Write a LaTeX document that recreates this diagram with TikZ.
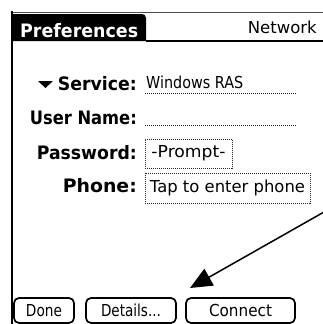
\documentclass[tikz,border=0pt]{standalone}
\usepackage{fontspec}
\setmainfont{DejaVu Sans}
\usetikzlibrary{arrows.meta}
\newcommand{\fw}[2]{\resizebox{#1pt}{\height}{#2}}
\begin{document}
\begin{tikzpicture}[x=1pt,y=-1pt,
  lbl/.style={inner sep=0pt,font=\fontsize{18.5}{18.5}\bfseries\selectfont},
  txt/.style={inner sep=0pt,font=\fontsize{16.5}{16.5}\selectfont},
  dotln/.style={black!85,line width=1pt,dash pattern=on 1pt off 1pt},
  dotbox/.style={draw=black!85,line width=1pt,dash pattern=on 1pt off 1pt,inner sep=0pt,font=\fontsize{16.5}{16.5}\selectfont},
  btn/.style={draw,line width=1.7pt,rounded corners=5pt,minimum height=25pt,inner sep=0pt,font=\fontsize{16.5}{16.5}\selectfont},
  arr/.style={-{Triangle[length=22pt,width=19pt]},line width=1.5pt}]
\useasboundingbox (0,0) rectangle (323,324);
% frame
\draw[line width=1pt,black!70] (12,12) -- (323,12);
\draw[line width=2pt] (12,11) -- (12,324);
\fill (13,41) -- (13,14) [rounded corners=4pt] -- (146,14) [sharp corners] -- (146,41) -- cycle;
\draw[line width=2pt] (146,41) -- (323,41);
% title
\node[lbl,text=white,anchor=base west] (pref) at (20,37) {\fw{118}{Preferences}};
\node[txt,anchor=base east] (net) at (317,33) {\fw{69}{Network}};
% labels
\fill (38,81) -- (53,81) -- (45.5,88) -- cycle;
\node[lbl,anchor=base east] (svc) at (137,90) {\fw{79}{Service:}};
\node[lbl,anchor=base east] (usr) at (137,124) {\fw{107}{User Name:}};
\node[lbl,anchor=base east] (pwd) at (137,159) {\fw{100}{Password:}};
\node[lbl,anchor=base east] (phn) at (137,192) {\fw{74}{Phone:}};
% values
\node[txt,anchor=base west] (svcv) at (146,88) {\fw{97}{Windows RAS}};
\draw[dotln] (145,93) -- (297,93);
\draw[dotln] (145,125) -- (297,125);
\node[dotbox,minimum width=87pt,minimum height=29pt] (pwdv) at (188.5,153.5) {\fw{74}{-Prompt-}};
\node[dotbox,minimum width=165pt,minimum height=30pt] (phnv) at (227.5,188) {\fw{155}{Tap to enter phone}};
% buttons
\node[btn,minimum width=60pt] (done) at (44,310.5) {\fw{36}{Done}};
\node[btn,minimum width=90pt] (det) at (131,310.5) {\fw{60}{Details...}};
\node[btn,minimum width=109pt] (conn) at (240.5,310.5) {\fw{63}{Connect}};
% arrow
\coordinate (astart) at (324,212);
\coordinate (atip) at (190,288);
\draw[arr] (astart) -- (atip);
\end{tikzpicture}
\end{document}
